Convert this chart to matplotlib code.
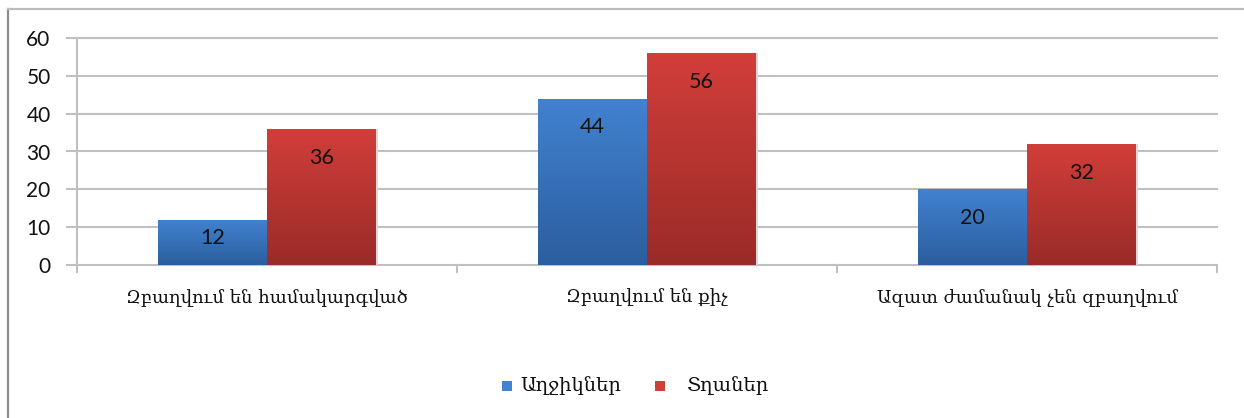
import numpy as np
import matplotlib
matplotlib.use("Agg")
import matplotlib.pyplot as plt
from matplotlib.patches import Patch, Rectangle
from matplotlib.lines import Line2D

categories = ["Զբաղվում են համակարգված", "Զբաղվում են քիչ", "Ազատ ժամանակ չեն զբաղվում"]
series_names = ["Աղջիկներ", "Տղաներ"]
girls = [12, 44, 20]
boys = [36, 56, 32]
y_ticks = [0, 10, 20, 30, 40, 50, 60]

blue_top, blue_bot = "#4282D0", "#2B5E9E"
red_top, red_bot = "#D23E3A", "#9A2B28"

W, H = 1244, 418
fig = plt.figure(figsize=(W / 100, H / 100), dpi=100)
fig.patch.set_facecolor("white")

# chart frame (left and top edges visible)
fig.add_artist(Line2D([8 / W, 8 / W], [0, 1 - 9 / H], transform=fig.transFigure,
                      color="#8C8C8C", lw=1.6))
fig.add_artist(Line2D([8 / W, 1], [1 - 9 / H, 1 - 9 / H], transform=fig.transFigure,
                      color="#BDBDBD", lw=1.6))

ax = fig.add_axes([77 / W, (H - 265) / H, (1217 - 77) / W, (265 - 38) / H])
ax.set_xlim(0, 3)
ax.set_ylim(0, 60)
for s in ax.spines.values():
    s.set_visible(False)

# horizontal gridlines with short tick stubs on the left
for t in y_ticks:
    ax.plot([-10 / 380, 3], [t, t], color="#C0C0C0", lw=1.5, clip_on=False, zorder=1)
ax.plot([0, 0], [-7 / 3.783, 60], color="#C0C0C0", lw=1.5, clip_on=False, zorder=1)
for k in range(1, 4):
    ax.plot([k, k], [0, -7 / 3.783], color="#C0C0C0", lw=1.5, clip_on=False, zorder=1)

ax.set_yticks(y_ticks)
ax.set_yticklabels([str(t) for t in y_ticks], fontsize=15, family="Lato", color="#111111")
ax.tick_params(axis="y", length=0, pad=19)
ax.set_xticks([])

x = np.arange(len(categories)) + 0.5
bw = 109 / 380


def gradient_bars(bars, top, bot):
    c1 = np.array(matplotlib.colors.to_rgb(top))
    c2 = np.array(matplotlib.colors.to_rgb(bot))
    g = np.linspace(0, 1, 256)[:, None]
    img = (c1[None, :] * (1 - g) + c2[None, :] * g)[:, None, :]
    for b in bars:
        x0, y0 = b.get_x(), b.get_y()
        w, h = b.get_width(), b.get_height()
        im = ax.imshow(img, extent=[x0, x0 + w, y0, y0 + h], aspect="auto",
                       origin="upper", zorder=2, interpolation="bilinear")
        im.set_clip_path(b)
        ax.add_patch(Rectangle((x0 + w, y0), 0.004, h, color="#D8D8D8", zorder=1.5, lw=0))


b1 = ax.bar(x - bw / 2, girls, bw, color=blue_top, zorder=2, lw=0)
b2 = ax.bar(x + bw / 2, boys, bw, color=red_top, zorder=2, lw=0)
gradient_bars(b1, blue_top, blue_bot)
gradient_bars(b2, red_top, red_bot)
ax.set_xlim(0, 3)
ax.set_ylim(0, 60)

for bars, vals in ((b1, girls), (b2, boys)):
    for b, v in zip(bars, vals):
        ypos = max(v - 7.6, v * 0.6)
        ax.text(b.get_x() + b.get_width() / 2, ypos, str(v), ha="center", va="center",
                fontsize=15.5, family="Lato", color="#111111", zorder=3)

for xi, c in zip(x, categories):
    ax.text(xi, -33 / 3.783, c, ha="center", va="center", fontsize=13,
            family="DejaVu Serif", color="#111111")

# legend drawn as swatches plus labels
leg_y = 1 - 386 / H
sw = 10
for (x0, col), (tx, name) in zip(((502, blue_top), (655, red_top)),
                                  ((520, series_names[0]), (687, series_names[1]))):
    fig.add_artist(Rectangle((x0 / W, leg_y - sw / 2 / H), sw / W, sw / H,
                             transform=fig.transFigure, facecolor=col, edgecolor="none"))
    fig.text(tx / W, leg_y, name, ha="left", va="center", fontsize=14,
             family="DejaVu Serif", color="#111111")

fig.savefig("out.png", dpi=100)
